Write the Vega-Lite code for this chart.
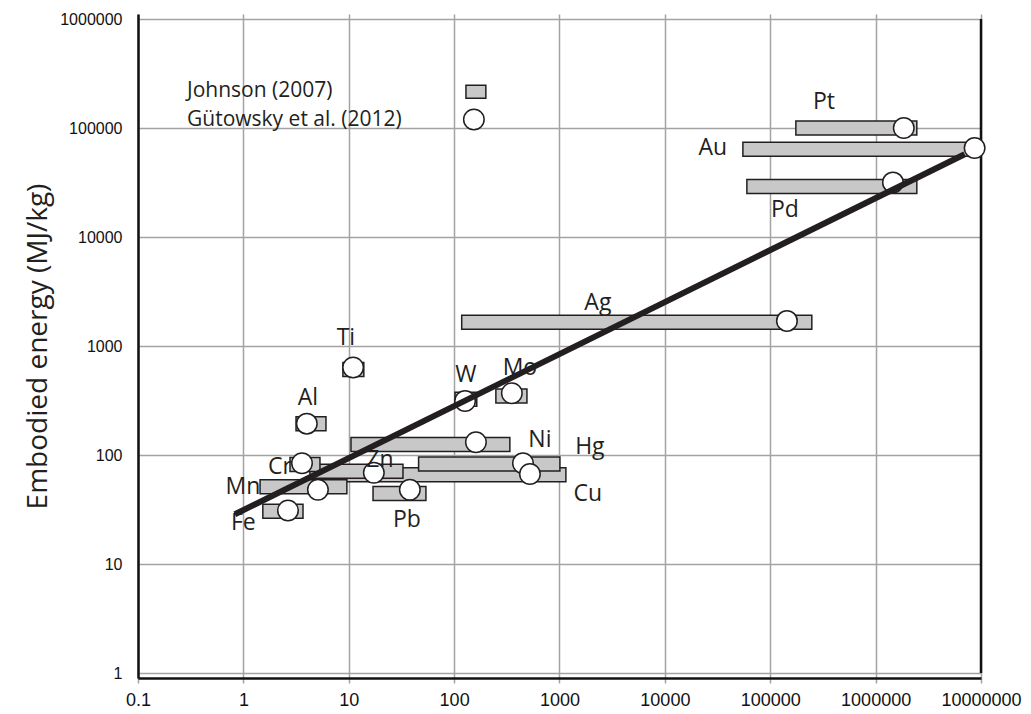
{
  "$schema": "https://vega.github.io/schema/vega-lite/v6.json",
  "width": 843,
  "height": 664,
  "autosize": {"type": "none"},
  "padding": {"left": 138, "top": 14, "right": 50, "bottom": 36},
  "background": "white",
  "config": {"view": {"stroke": null}, "font": "Open Sans"},
  "datasets": {
    "johnson": [
      {"element": "Pt", "x": 175000, "x2": 2460000, "y": 100000},
      {"element": "Au", "x": 55000, "x2": 7800000, "y": 64000},
      {"element": "Pd", "x": 60000, "x2": 2460000, "y": 29100},
      {"element": "Ag", "x": 118, "x2": 248000, "y": 1650},
      {"element": "Ti", "x": 8.8, "x2": 13.9, "y": 610},
      {"element": "Al", "x": 3.16, "x2": 6.08, "y": 194},
      {"element": "W", "x": 102, "x2": 164, "y": 325},
      {"element": "Mo", "x": 249, "x2": 491, "y": 347},
      {"element": "Sn", "x": 10.5, "x2": 338, "y": 125},
      {"element": "Cu", "x": 5.7, "x2": 1150, "y": 66},
      {"element": "Zn", "x": 4.28, "x2": 32.7, "y": 71},
      {"element": "Ni", "x": 46, "x2": 1009, "y": 82.6},
      {"element": "Cr", "x": 2.77, "x2": 5.33, "y": 82},
      {"element": "Mn", "x": 1.44, "x2": 9.6, "y": 51},
      {"element": "Fe", "x": 1.53, "x2": 3.68, "y": 30.4},
      {"element": "Pb", "x": 17, "x2": 54, "y": 44.3}
    ],
    "gutowsky": [
      {"element": "Pt", "x": 1850000, "y": 100000},
      {"element": "Au", "x": 8700000, "y": 65600},
      {"element": "Pd", "x": 1460000, "y": 31700},
      {"element": "Ag", "x": 144000, "y": 1700},
      {"element": "Ti", "x": 11, "y": 634},
      {"element": "Al", "x": 4.0, "y": 194},
      {"element": "W", "x": 127, "y": 313},
      {"element": "Mo", "x": 353, "y": 369},
      {"element": "Sn", "x": 161, "y": 131},
      {"element": "Ni", "x": 450, "y": 84},
      {"element": "Cu", "x": 524, "y": 67},
      {"element": "Zn", "x": 17.3, "y": 68.6},
      {"element": "Cr", "x": 3.6, "y": 84},
      {"element": "Mn", "x": 5.1, "y": 48},
      {"element": "Fe", "x": 2.65, "y": 31},
      {"element": "Pb", "x": 38, "y": 48}
    ],
    "fit": [
      {"x": 0.83, "y": 28.6},
      {"x": 7000000, "y": 57500}
    ],
    "labels": [
      {"label": "Pt", "x": 323000, "y": 174000},
      {"label": "Au", "x": 28500, "y": 65600},
      {"label": "Pd", "x": 137700, "y": 17700},
      {"label": "Ag", "x": 2312, "y": 2500},
      {"label": "Ti", "x": 9.4, "y": 1183},
      {"label": "Al", "x": 4.1, "y": 333},
      {"label": "W", "x": 129.5, "y": 537},
      {"label": "Mo", "x": 421, "y": 634},
      {"label": "Ni", "x": 652, "y": 136},
      {"label": "Hg", "x": 1941, "y": 117.5},
      {"label": "Cu", "x": 1858, "y": 44.3},
      {"label": "Cr", "x": 2.22, "y": 77.6},
      {"label": "Zn", "x": 19.8, "y": 89.8},
      {"label": "Mn", "x": 0.99, "y": 51},
      {"label": "Fe", "x": 1.0, "y": 23.7},
      {"label": "Pb", "x": 35.6, "y": 25.2}
    ],
    "legendText": [
      {"label": "Johnson (2007)", "x": 0.292, "y": 219000},
      {"label": "Gütowsky et al. (2012)", "x": 0.292, "y": 117400}
    ],
    "legendBar": [{"x": 129.5, "x2": 200, "y": 214600}],
    "legendDot": [{"x": 154, "y": 119900}],
    "frame": [{"x": 10000000, "y": 1, "y2": 1000000}]
  },
  "encoding": {
    "x": {
      "field": "x",
      "type": "quantitative",
      "scale": {"type": "log", "domain": [0.1, 10000000], "nice": false},
      "axis": {
        "title": null,
        "values": [0.1, 1, 10, 100, 1000, 10000, 100000, 1000000, 10000000],
        "labelExpr": "format(datum.value, '.1~f')",
        "grid": true,
        "gridColor": "#a3a3a3",
        "gridWidth": 1.5,
        "domainColor": "#111111",
        "domainWidth": 2.5,
        "tickColor": "#a3a3a3",
        "tickWidth": 1.5,
        "tickSize": 5,
        "labelFont": "Liberation Sans",
        "labelFontSize": 18,
        "labelColor": "#111111",
        "labelPadding": 8,
        "labelFlush": false,
        "labelOverlap": false
      }
    },
    "y": {
      "field": "y",
      "type": "quantitative",
      "scale": {"type": "log", "domain": [1, 1000000], "nice": false},
      "axis": {
        "title": "Embodied energy (MJ/kg)",
        "values": [1, 10, 100, 1000, 10000, 100000, 1000000],
        "format": "d",
        "grid": true,
        "gridColor": "#a3a3a3",
        "gridWidth": 1.5,
        "domainColor": "#111111",
        "domainWidth": 2.5,
        "ticks": false,
        "labelFont": "Liberation Sans",
        "labelFontSize": 16,
        "labelColor": "#111111",
        "labelPadding": 16,
        "labelOverlap": false,
        "titleFont": "Open Sans",
        "titleFontSize": 28,
        "titleFontWeight": "normal",
        "titleColor": "#231f20",
        "titleX": -100,
        "titleY": 332,
        "titleAngle": -90,
        "titleAlign": "center",
        "titleBaseline": "middle"
      }
    }
  },
  "layer": [
    {
      "data": {"name": "frame"},
      "mark": {"type": "rule", "color": "#111111", "strokeWidth": 2.5},
      "encoding": {"y2": {"field": "y2"}}
    },
    {
      "data": {"name": "johnson"},
      "mark": {"type": "bar", "orient": "horizontal", "size": 14, "fill": "#c8c8c8", "stroke": "#231f20", "strokeWidth": 1.5},
      "encoding": {"x2": {"field": "x2"}}
    },
    {
      "data": {"name": "gutowsky"},
      "mark": {"type": "point", "shape": "circle", "filled": false, "fill": "white", "fillOpacity": 1, "stroke": "#231f20", "strokeWidth": 1.5, "size": 420, "opacity": 1}
    },
    {
      "data": {"name": "fit"},
      "mark": {"type": "line", "color": "#231f20", "strokeWidth": 6, "strokeCap": "butt"}
    },
    {
      "data": {"name": "labels"},
      "mark": {"type": "text", "fontSize": 23, "color": "#231f20", "align": "center", "baseline": "middle"},
      "encoding": {"text": {"field": "label"}}
    },
    {
      "data": {"name": "legendText"},
      "mark": {"type": "text", "fontSize": 21, "color": "#231f20", "align": "left", "baseline": "middle"},
      "encoding": {"text": {"field": "label"}}
    },
    {
      "data": {"name": "legendBar"},
      "mark": {"type": "bar", "orient": "horizontal", "size": 13, "fill": "#c8c8c8", "stroke": "#231f20", "strokeWidth": 1.5},
      "encoding": {"x2": {"field": "x2"}}
    },
    {
      "data": {"name": "legendDot"},
      "mark": {"type": "point", "shape": "circle", "filled": false, "fill": "white", "fillOpacity": 1, "stroke": "#231f20", "strokeWidth": 1.5, "size": 420, "opacity": 1}
    }
  ]
}
